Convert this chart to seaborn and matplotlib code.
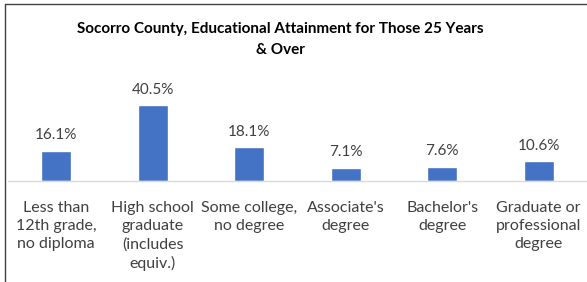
import matplotlib
matplotlib.use("Agg")
import matplotlib.pyplot as plt
import seaborn as sns
import pandas as pd
from matplotlib.lines import Line2D

categories = ["Less than\n12th grade,\nno diploma",
              "High school\ngraduate\n(includes\nequiv.)",
              "Some college,\nno degree",
              "Associate's\ndegree",
              "Bachelor's\ndegree",
              "Graduate or\nprofessional\ndegree"]
values = [16.1, 40.5, 18.1, 7.1, 7.6, 10.6]
value_labels = ["16.1%", "40.5%", "18.1%", "7.1%", "7.6%", "10.6%"]
title = "Socorro County, Educational Attainment for Those 25 Years\n& Over"

sns.set_style("white")
plt.rcParams['font.family'] = ['Lato', 'DejaVu Sans']

W, H = 587, 282
fig = plt.figure(figsize=(W / 100, H / 100), dpi=100)
left, right = 8 / W, 587 / W
bottom, top = 1 - 181 / H, 1 - 96.5 / H
ax = fig.add_axes([left, bottom, right - left, top - bottom])

df = pd.DataFrame({"cat": categories, "val": values})
sns.barplot(data=df, x="cat", y="val", color="#4472C4", width=0.31,
            saturation=1, ax=ax)
ax.set_ylim(0, 45)
ax.set_xlim(-0.5, 5.5)
for i, (v, lab) in enumerate(zip(values, value_labels)):
    ax.annotate(lab, (i, v), xytext=(0, 6), textcoords="offset points",
                ha="center", va="bottom", fontsize=11, color="#404040")
for s in ["top", "right", "left"]:
    ax.spines[s].set_visible(False)
ax.spines["bottom"].set_color("#D9D9D9")
ax.spines["bottom"].set_linewidth(1)
ax.set_yticks([])
ax.set_xlabel("")
ax.set_ylabel("")
ax.tick_params(axis="x", length=0, pad=14.5, labelsize=11.5, colors="#404040")
for t in ax.get_xticklabels():
    t.set_linespacing(1.36)
    t.set_color("#404040")

fig.text(280 / W, 1 - 22 / H, title, ha="center", va="top",
         fontsize=11, fontweight="bold", color="#000000", linespacing=1.65)

fig.add_artist(Line2D([5 / W, 5 / W], [0, 1 - 4 / H], transform=fig.transFigure,
                      color="#404040", lw=1))
fig.add_artist(Line2D([5 / W, 1], [1 - 4 / H, 1 - 4 / H], transform=fig.transFigure,
                      color="#404040", lw=1))

fig.savefig("out.png", dpi=100)
